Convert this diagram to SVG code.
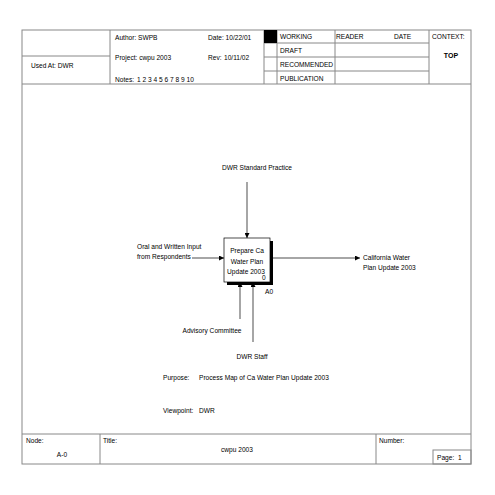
<svg xmlns="http://www.w3.org/2000/svg" width="495" height="495" viewBox="0 0 495 495">
<defs>
<marker id="ah" viewBox="0 0 6 6" refX="6" refY="3" markerWidth="5" markerHeight="5" markerUnits="userSpaceOnUse" orient="auto">
<path d="M0,0 L6,3 L0,6 Z" fill="#000"/>
</marker>
</defs>
<style>
text{font-family:"Liberation Sans",Arial,sans-serif;font-size:6.6px;fill:#000}
.f{fill:none;stroke:#888;stroke-width:1}
.c{fill:none;stroke:#000;stroke-width:0.7}
.m{text-anchor:middle}
.b{font-weight:bold;font-size:7px}
</style>
<rect width="495" height="495" fill="#fff"/>
<g id="frame">
<rect class="f" x="22" y="30" width="449" height="434"/>
<line class="f" x1="22" y1="84" x2="471" y2="84"/>
<line class="f" x1="22" y1="434" x2="471" y2="434"/>
<line class="f" x1="110" y1="30" x2="110" y2="84"/>
<line class="f" x1="22" y1="56" x2="110" y2="56"/>
<line class="f" x1="264" y1="30" x2="264" y2="84"/>
<line class="f" x1="277" y1="30" x2="277" y2="84"/>
<line class="f" x1="335" y1="30" x2="335" y2="84"/>
<line class="f" x1="429" y1="30" x2="429" y2="84"/>
<line class="f" x1="264" y1="43" x2="429" y2="43"/>
<line class="f" x1="264" y1="57" x2="429" y2="57"/>
<line class="f" x1="264" y1="71" x2="429" y2="71"/>
<rect x="264" y="30" width="13" height="13" fill="#000"/>
<line class="f" x1="100" y1="434" x2="100" y2="464"/>
<line class="f" x1="376" y1="434" x2="376" y2="464"/>
<rect class="f" x="433" y="450" width="38" height="14"/>
</g>
<g id="header-text">
<text x="31" y="68">Used At: DWR</text>
<text x="115" y="40">Author: SWPB</text>
<text x="208" y="40">Date: 10/22/01</text>
<text x="115" y="60">Project: cwpu 2003</text>
<text x="208" y="60">Rev:</text><text x="224" y="60">10/11/02</text>
<text x="115" y="82">Notes:</text><text x="137" y="82">1 2 3 4 5 6 7 8 9 10</text>
<text x="280" y="39">WORKING</text>
<text x="336" y="39">READER</text>
<text x="394" y="39">DATE</text>
<text x="280" y="53">DRAFT</text>
<text x="280" y="67">RECOMMENDED</text>
<text x="280" y="81">PUBLICATION</text>
<text x="432" y="39">CONTEXT:</text>
<text class="m b" x="451" y="58">TOP</text>
</g>
<g id="footer-text">
<text x="26" y="443">Node:</text>
<text class="m" x="62" y="457">A-0</text>
<text x="103" y="443">Title:</text>
<text class="m" x="237" y="452">cwpu 2003</text>
<text x="379" y="443">Number:</text>
<text x="437" y="460">Page:</text><text x="458" y="460">1</text>
</g>
<g id="connectors">
<line class="c" x1="247" y1="182" x2="247" y2="238" marker-end="url(#ah)"/>
<line class="c" x1="192" y1="258" x2="224" y2="258" marker-end="url(#ah)"/>
<line class="c" x1="270" y1="258" x2="360" y2="258" marker-end="url(#ah)"/>
<line class="c" x1="240" y1="319" x2="240" y2="282" marker-end="url(#ah)"/>
<line class="c" x1="253" y1="342" x2="253" y2="282" marker-end="url(#ah)"/>
</g>
<g id="node-A0">
<rect x="227" y="241" width="46" height="44" fill="#000"/>
<rect x="224" y="238" width="46" height="44" fill="#fff" stroke="#000" stroke-width="0.7"/>
<text class="m" x="247" y="253">Prepare Ca</text>
<text class="m" x="247" y="264">Water Plan</text>
<text class="m" x="246" y="274">Update 2003</text>
<text x="262" y="280">0</text>
<text x="265" y="294">A0</text>
</g>
<g id="labels">
<text class="m" x="257" y="170">DWR Standard Practice</text>
<text x="137" y="249">Oral and Written Input</text>
<text x="137" y="259">from Respondents</text>
<text x="363" y="260">California Water</text>
<text x="363" y="270">Plan Update 2003</text>
<text class="m" x="212" y="333">Advisory Committee</text>
<text class="m" x="252" y="359">DWR Staff</text>
<text x="163" y="380">Purpose:</text>
<text x="199" y="380">Process Map of Ca Water Plan Update 2003</text>
<text x="163" y="413">Viewpoint:</text>
<text x="199" y="413">DWR</text>
</g>
</svg>
